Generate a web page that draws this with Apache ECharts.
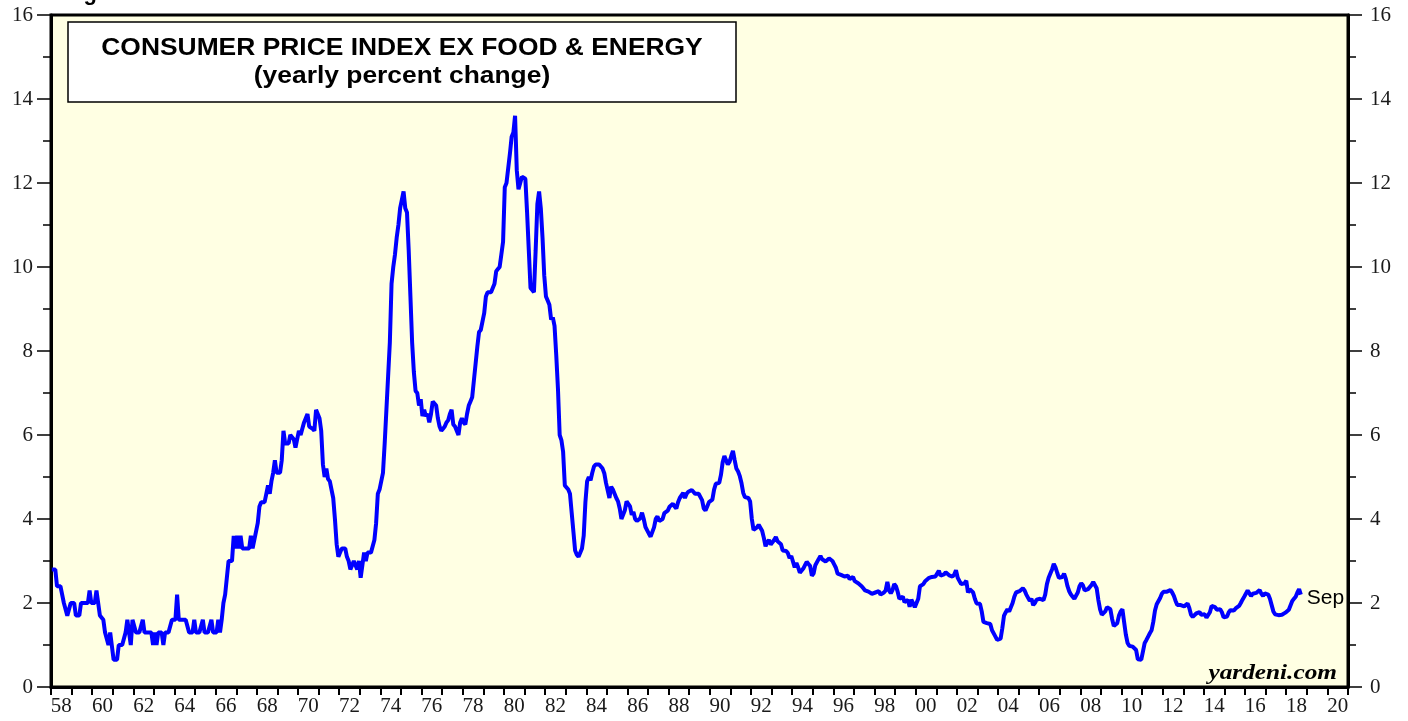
<!DOCTYPE html>
<html>
<head>
<meta charset="utf-8">
<script src="https://cdn.jsdelivr.net/npm/echarts@6/dist/echarts.min.js"></script>
<style>
html, body { margin: 0; padding: 0; background: #fff; }
#chart { width: 1408px; height: 721px; }
</style>
</head>
<body>
<div id="chart"></div>
<script>
// monthly core CPI, yearly % change, Jan 1958 .. Sep 2018
var startYear = 1958;

var core1950s = [
    2.8, 2.8, 2.8, 2.4, 2.4, 2.4, 2.4, 2.0, 2.0, 1.7, 1.7, 2.0,
    2.0, 2.0, 1.7, 1.7, 1.7, 2.0, 2.0, 2.0, 2.0, 2.0, 2.3, 2.0
];
var core1960s = [
    2.0, 2.0, 2.3, 2.0, 1.7, 1.7, 1.6, 1.3, 1.3, 1.0, 1.3, 1.3,
    0.65, 0.65, 0.65, 1.0, 1.0, 1.0, 1.0, 1.3, 1.6, 1.6, 1.0, 1.6,
    1.6, 1.3, 1.3, 1.3, 1.3, 1.6, 1.3, 1.3, 1.3, 1.3, 1.3, 1.0,
    1.3, 1.0, 1.3, 1.3, 1.3, 1.0, 1.3, 1.3, 1.3, 1.3, 1.6, 1.6,
    1.6, 2.2, 1.6, 1.6, 1.6, 1.6, 1.6, 1.6, 1.3, 1.3, 1.3, 1.6,
    1.3, 1.3, 1.3, 1.3, 1.6, 1.3, 1.3, 1.3, 1.3, 1.6, 1.3, 1.3,
    1.3, 1.6, 1.3, 1.6, 2.0, 2.2, 2.6, 3.0, 3.0, 3.0, 3.6, 3.3,
    3.6, 3.3, 3.6, 3.3, 3.3, 3.3, 3.3, 3.3, 3.6, 3.3, 3.3, 3.7,
    3.9, 4.3, 4.4, 4.4, 4.4, 4.6, 4.8, 4.6, 4.9, 5.1, 5.4, 5.1,
    5.1, 5.1, 5.4, 6.1, 5.8, 5.8, 5.8, 6.0, 6.0, 5.9, 5.7, 5.9
];
var core1970s = [
    6.1, 6.0, 6.0, 6.3, 6.4, 6.5, 6.2, 6.2, 6.15, 6.1, 6.6, 6.6,
    6.4, 6.1, 5.3, 5.0, 5.2, 4.95, 4.9, 4.9, 4.5, 4.0, 3.4, 3.1,
    3.2, 3.3, 3.3, 3.3, 3.1, 3.0, 2.8, 2.9, 3.0, 3.0, 2.8, 3.0,
    2.6, 2.9, 3.2, 3.0, 3.2, 3.2, 3.2, 3.2, 3.5, 3.9, 4.6, 4.7,
    4.7, 5.1, 5.8, 6.6, 7.4, 8.2, 9.6, 10.0, 10.3, 10.7, 11.0, 11.4,
    11.6, 11.8, 11.4, 11.3, 10.4, 9.3, 8.2, 7.5, 7.05, 7.0, 6.7, 6.85,
    6.45, 6.6, 6.45, 6.5, 6.3, 6.5, 6.8, 6.75, 6.7, 6.4, 6.2, 6.1,
    6.15, 6.2, 6.3, 6.35, 6.5, 6.6, 6.25, 6.2, 6.1, 6.0, 6.3, 6.4,
    6.3, 6.25, 6.5, 6.7, 6.8, 6.9, 7.3, 7.7, 8.1, 8.45, 8.5, 8.5,
    8.9, 9.3, 9.4, 9.4, 9.4, 9.4, 9.6, 9.9, 9.95, 10.0, 10.3, 10.6
];
var core1980s = [
    11.9, 12.0, 12.0, 12.7, 13.1, 13.2, 13.6, 12.3, 11.85, 12.0, 12.15, 12.15,
    12.1, 11.3, 10.4, 9.5, 9.45, 9.4, 10.4, 11.5, 11.8, 11.4, 10.7, 9.8,
    9.3, 9.2, 9.1, 8.75, 8.8, 8.6, 7.9, 7.1, 6.0, 5.88, 5.6, 4.8,
    4.75, 4.7, 4.6, 4.15, 3.7, 3.25, 3.15, 3.1, 3.07, 3.3, 3.6, 4.4,
    4.9, 5.0, 4.92, 5.1, 5.25, 5.3, 5.33, 5.3, 5.28, 5.2, 5.09, 4.86,
    4.85, 4.5, 4.77, 4.7, 4.6, 4.5, 4.42, 4.25, 4.0, 4.0, 4.21, 4.42,
    4.45, 4.3, 4.1, 4.17, 4.0, 3.95, 3.95, 4.02, 4.15, 4.0, 3.81, 3.73,
    3.65, 3.58, 3.58, 3.8, 4.0, 4.06, 3.95, 3.95, 4.0, 4.14, 4.14, 4.2,
    4.29, 4.32, 4.36, 4.3, 4.25, 4.4, 4.5, 4.5, 4.62, 4.5, 4.6, 4.65,
    4.67, 4.69, 4.69, 4.6, 4.57, 4.6, 4.57, 4.45, 4.25, 4.2, 4.3, 4.4
];
var core1990s = [
    4.44, 4.46, 4.7, 4.84, 4.86, 4.86, 5.05, 5.35, 5.5, 5.5, 5.3, 5.36,
    5.5, 5.62, 5.4, 5.2, 5.13, 5.02, 4.85, 4.62, 4.52, 4.5, 4.5, 4.42,
    4.0, 3.74, 3.74, 3.8, 3.86, 3.86, 3.72, 3.55, 3.35, 3.45, 3.5, 3.39,
    3.42, 3.5, 3.57, 3.47, 3.45, 3.4, 3.25, 3.22, 3.24, 3.19, 3.07, 3.12,
    3.1, 2.85, 2.95, 2.85, 2.72, 2.76, 2.82, 2.9, 2.98, 2.93, 2.88, 2.65,
    2.7, 2.9, 2.93, 3.05, 3.12, 3.04, 3.0, 2.99, 2.98, 3.06, 3.08, 3.0,
    2.92, 2.84, 2.7, 2.67, 2.67, 2.67, 2.63, 2.59, 2.65, 2.57, 2.6, 2.62,
    2.52, 2.5, 2.47, 2.44, 2.4, 2.35, 2.3, 2.27, 2.27, 2.27, 2.22, 2.19,
    2.25, 2.27, 2.28, 2.2, 2.22, 2.25, 2.3, 2.5, 2.3, 2.23, 2.31, 2.45,
    2.4, 2.27, 2.1, 2.07, 2.15, 2.02, 2.0, 2.07, 1.91, 2.08, 2.1, 1.9
];
var core2000s = [
    1.9, 2.1, 2.4, 2.43, 2.45, 2.52, 2.55, 2.59, 2.63, 2.62, 2.6, 2.63,
    2.66, 2.77, 2.65, 2.64, 2.68, 2.73, 2.7, 2.66, 2.63, 2.63, 2.68, 2.78,
    2.6, 2.56, 2.45, 2.43, 2.47, 2.53, 2.25, 2.33, 2.33, 2.25, 2.1, 1.99,
    2.0, 1.98, 1.8, 1.55, 1.52, 1.52, 1.53, 1.5, 1.35, 1.32, 1.2, 1.12,
    1.12, 1.15, 1.4, 1.7, 1.78, 1.85, 1.8, 1.9, 2.0, 2.15, 2.25, 2.27,
    2.28, 2.3, 2.35, 2.3, 2.2, 2.18, 2.05, 2.1, 1.95, 2.0, 2.08, 2.1,
    2.1, 2.08, 2.07, 2.2, 2.45, 2.6, 2.7, 2.8, 2.93, 2.85, 2.72, 2.6,
    2.6, 2.62, 2.7, 2.58, 2.4, 2.28, 2.2, 2.15, 2.1, 2.13, 2.25, 2.4,
    2.47, 2.42, 2.3, 2.33, 2.33, 2.31, 2.43, 2.5, 2.5, 2.35, 2.07, 1.85,
    1.72, 1.68, 1.8, 1.9, 1.91, 1.85, 1.62, 1.45, 1.46, 1.52, 1.7, 1.8
];
var core2010s = [
    1.85, 1.55, 1.25, 1.05, 0.98, 0.96, 0.96, 0.92, 0.88, 0.66, 0.64, 0.65,
    0.85, 1.05, 1.12, 1.2, 1.28, 1.35, 1.55, 1.82, 1.97, 2.0, 2.12, 2.22,
    2.27, 2.25, 2.27, 2.3, 2.31, 2.25, 2.17, 2.05, 1.95, 1.97, 1.95, 1.91,
    1.92, 1.93, 1.99, 1.88, 1.72, 1.67, 1.66, 1.75, 1.79, 1.78, 1.72, 1.72,
    1.73, 1.65, 1.62, 1.78, 1.93, 1.95, 1.9, 1.84, 1.84, 1.85, 1.78, 1.66,
    1.63, 1.68, 1.78, 1.83, 1.8, 1.82, 1.87, 1.89, 1.93, 2.0, 2.08, 2.15,
    2.19, 2.3, 2.23, 2.17, 2.22, 2.24, 2.24, 2.22, 2.31, 2.22, 2.17, 2.23,
    2.23, 2.2, 2.1, 1.95, 1.8, 1.73, 1.71, 1.71, 1.71, 1.72, 1.75, 1.77,
    1.8, 1.84, 1.87, 2.05, 2.1, 2.15, 2.25, 2.33, 2.2
];

var yearLabels = [
    '58', '59', '60', '61', '62', '63', '64', '65', '66', '67', '68', '69',
    '70', '71', '72', '73', '74', '75', '76', '77', '78', '79', '80', '81',
    '82', '83', '84', '85', '86', '87', '88', '89', '90', '91', '92', '93',
    '94', '95', '96', '97', '98', '99', '00', '01', '02', '03', '04', '05',
    '06', '07', '08', '09', '10', '11', '12', '13', '14', '15', '16', '17',
    '18', '19', '20'
];
var lastLabel = 'Sep';

var coreCpi = [].concat(core1950s, core1960s, core1970s, core1980s,
    core1990s, core2000s, core2010s);
var seriesData = coreCpi.map(function (v, i) {
    return [startYear + i / 12 + 1 / 24, v];
});

var serif = 'Liberation Serif';
var sans = 'Liberation Sans';

var myChart = echarts.init(document.getElementById('chart'));

function yAxisStyle(pos, margin) {
    return {
        type: 'value',
        position: pos,
        min: 0,
        max: 16,
        interval: 2,
        axisLine: {show: true, lineStyle: {color: '#000', width: 3}},
        axisTick: {show: true, length: 14, lineStyle: {color: '#000', width: 1.5}},
        minorTick: {show: true, splitNumber: 2, length: 8, lineStyle: {color: '#000', width: 1.5}},
        axisLabel: {margin: margin, fontFamily: serif, fontSize: 21, color: '#1a1a1a'},
        splitLine: {show: false},
        minorSplitLine: {show: false}
    };
}

option = {
    animation: false,
    backgroundColor: '#fff',
    grid: {
        left: 51,
        right: 60,
        top: 15,
        bottom: 34,
        show: true,
        backgroundColor: '#FFFFE3',
        borderColor: '#000',
        borderWidth: 3
    },
    xAxis: [
        {
            type: 'category',
            data: yearLabels,
            boundaryGap: true,
            axisLine: {show: true, lineStyle: {color: '#000', width: 3}},
            axisTick: {show: true, interval: 0, length: 8, lineStyle: {color: '#000', width: 2}},
            axisLabel: {interval: 1, margin: 9, fontFamily: serif, fontSize: 21, color: '#1a1a1a'},
            splitLine: {show: false}
        },
        {
            type: 'value',
            min: 1958,
            max: 2021,
            show: false
        }
    ],
    yAxis: [yAxisStyle('left', 18), yAxisStyle('right', 22)],
    series: [
        {
            type: 'line',
            xAxisIndex: 1,
            yAxisIndex: 0,
            data: seriesData,
            showSymbol: false,
            symbol: 'none',
            lineStyle: {color: '#0000FF', width: 4},
            endLabel: {
                show: true,
                formatter: lastLabel,
                fontFamily: sans,
                fontSize: 21,
                color: '#000',
                distance: 6,
                offset: [0, 4]
            }
        }
    ],
    graphic: [
        {
            type: 'text',
            x: 64,
            y: 5,
            style: {text: 'Figure', font: 'bold 22px "Liberation Sans"', fill: '#000', verticalAlign: 'bottom'}
        },
        {
            type: 'rect',
            shape: {x: 68, y: 22, width: 668, height: 80},
            style: {fill: '#fff', stroke: '#000', lineWidth: 1.5},
            z: 10
        },
        {
            type: 'text',
            x: 402,
            y: 48,
            scaleX: 1.1,
            z: 11,
            style: {
                text: 'CONSUMER PRICE INDEX EX FOOD & ENERGY',
                font: 'bold 24px "Liberation Sans"',
                fill: '#000',
                align: 'center',
                verticalAlign: 'middle'
            }
        },
        {
            type: 'text',
            x: 402,
            y: 76,
            scaleX: 1.1,
            z: 11,
            style: {
                text: '(yearly percent change)',
                font: 'bold 24px "Liberation Sans"',
                fill: '#000',
                align: 'center',
                verticalAlign: 'middle'
            }
        },
        {
            type: 'text',
            x: 1337,
            y: 673,
            scaleX: 1.15,
            z: 11,
            style: {
                text: 'yardeni.com',
                font: 'italic bold 22px "Liberation Serif"',
                fill: '#000',
                align: 'right',
                verticalAlign: 'middle'
            }
        }
    ]
};

myChart.setOption(option);
</script>
</body>
</html>
